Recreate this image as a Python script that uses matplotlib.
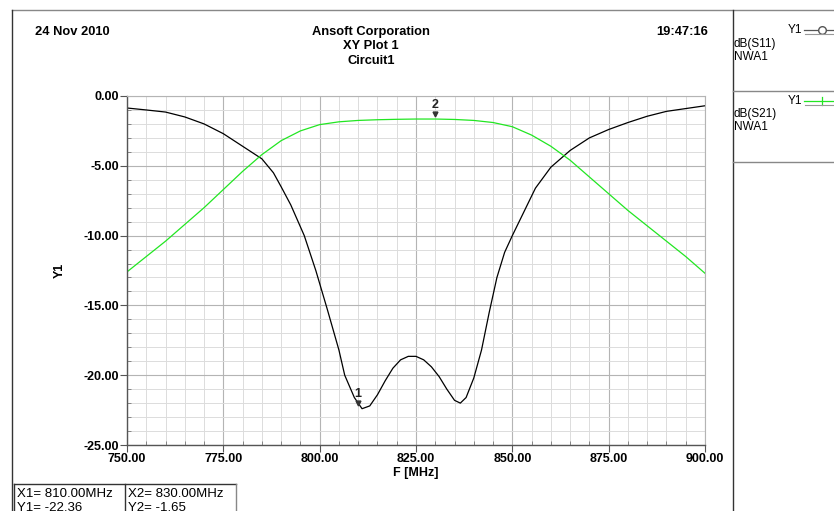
"""Ansoft XY Plot 1 - dB(S11) / dB(S21) of NWA1."""
import matplotlib
matplotlib.use('Agg')
import matplotlib.pyplot as plt
from matplotlib.lines import Line2D
from matplotlib.ticker import MultipleLocator, FormatStrFormatter

plt.rcParams['font.family'] = ['Liberation Sans', 'DejaVu Sans']

# %% Data
f_s11 = [750, 755, 760, 765, 770, 775, 780, 785, 788, 790, 792.5, 796, 799,
         802, 805, 806.5, 809, 811, 813, 815, 817, 819, 821, 823, 825, 827,
         829, 831, 833, 835, 836.5, 838, 840, 842, 844, 846, 848, 850, 853,
         856, 860, 865, 870, 875, 880, 885, 890, 895, 900]
s11 = [-0.86, -1.0, -1.15, -1.5, -2.0, -2.7, -3.6, -4.5, -5.5, -6.5, -7.8,
       -10.0, -12.5, -15.3, -18.2, -20.0, -21.6, -22.4, -22.2, -21.4, -20.4,
       -19.5, -18.9, -18.65, -18.65, -18.9, -19.4, -20.1, -21.0, -21.8, -22.0,
       -21.6, -20.2, -18.2, -15.5, -13.0, -11.2, -10.0, -8.3, -6.6, -5.1,
       -3.9, -3.0, -2.4, -1.9, -1.45, -1.1, -0.9, -0.7]

f_s21 = [750, 755, 760, 765, 770, 775, 780, 785, 790, 795, 800, 805, 810,
         815, 820, 825, 830, 835, 840, 845, 850, 855, 860, 865, 870, 875,
         880, 885, 890, 895, 900]
s21 = [-12.6, -11.5, -10.4, -9.2, -8.0, -6.7, -5.4, -4.2, -3.2, -2.5, -2.05,
       -1.85, -1.75, -1.7, -1.67, -1.65, -1.65, -1.68, -1.75, -1.9, -2.2,
       -2.8, -3.6, -4.6, -5.8, -7.0, -8.2, -9.3, -10.4, -11.5, -12.7]

marker_names = ['1', '2']
marker_x = [810.0, 830.0]
marker_y = [-22.36, -1.65]

W, H = 834, 511


def fx(x):
    return x / W


def fy(y):
    return 1 - y / H


# %% Figure
fig = plt.figure(figsize=(W / 100, H / 100), dpi=100)
ax = fig.add_axes([fx(127), fy(445), fx(705) - fx(127), fy(96) - fy(445)])

ax.plot(f_s11, s11, color='black', linewidth=0.9)
ax.plot(f_s21, s21, color='#22e622', linewidth=0.9)

for name, mx, my in zip(marker_names, marker_x, marker_y):
    ax.plot(mx, my + 0.35, marker='v', color='#333333', markersize=3.5)
    ax.text(mx, my + 0.55, name, ha='center', va='bottom', fontsize=9,
            fontweight='bold', color='#222222')

ax.set_xlim(750, 900)
ax.set_ylim(-25, 0)
ax.xaxis.set_major_locator(MultipleLocator(25))
ax.xaxis.set_minor_locator(MultipleLocator(5))
ax.yaxis.set_major_locator(MultipleLocator(5))
ax.yaxis.set_minor_locator(MultipleLocator(1))
ax.xaxis.set_major_formatter(FormatStrFormatter('%.2f'))
ax.yaxis.set_major_formatter(FormatStrFormatter('%.2f'))
ax.grid(which='major', color='#b4b4b4', linewidth=0.8)
ax.grid(which='minor', color='#dcdcdc', linewidth=0.7)
ax.set_axisbelow(True)

for side in ['top', 'right']:
    ax.spines[side].set_color('#b4b4b4')
    ax.spines[side].set_linewidth(0.8)
for side in ['left', 'bottom']:
    ax.spines[side].set_color('#555555')
    ax.spines[side].set_linewidth(1.0)

ax.tick_params(which='major', direction='out', length=5, color='#555555',
               labelsize=9, pad=0.5)
ax.tick_params(which='minor', direction='in', length=3, color='#777777')
for lab in ax.get_xticklabels() + ax.get_yticklabels():
    lab.set_fontweight('bold')

ax.set_xlabel('F [MHz]', fontsize=9, fontweight='bold', labelpad=2)
fig.text(fx(60), fy(270), 'Y1', rotation=90, ha='center', va='center',
         fontsize=9, fontweight='bold')

# %% Header
fig.text(fx(35), fy(32), '24 Nov 2010', ha='left', va='center',
         fontsize=9.3, fontweight='bold')
fig.text(fx(371), fy(32), 'Ansoft Corporation', ha='center', va='center',
         fontsize=9.3, fontweight='bold')
fig.text(fx(371), fy(46), 'XY Plot 1', ha='center', va='center',
         fontsize=9.3, fontweight='bold')
fig.text(fx(371), fy(61), 'Circuit1', ha='center', va='center',
         fontsize=9.3, fontweight='bold')
fig.text(fx(708), fy(32), '19:47:16', ha='right', va='center',
         fontsize=9.3, fontweight='bold')


# %% Frame and legend panel
def fline(xs, ys, color='#333333', lw=1.0, **kw):
    fig.add_artist(Line2D([fx(x) for x in xs], [fy(y) for y in ys],
                          transform=fig.transFigure, color=color,
                          linewidth=lw, **kw))


fline([12, 834], [10, 10], color='#888888')
fline([12, 12], [10, 511])
fline([733, 733], [10, 511])
fline([733, 834], [91, 91], color='#888888')
fline([733, 834], [162, 162], color='#888888')

fig.text(fx(802), fy(30), 'Y1', ha='right', va='center', fontsize=8.5)
fline([804, 822, 834], [30, 30, 30], color='#555555', lw=0.9, marker='o',
      markersize=5.5, markerfacecolor='white', markevery=[1])
fline([805, 834], [34, 34], color='#999999', lw=0.8)
fig.text(fx(734), fy(44), 'dB(S11)', ha='left', va='center', fontsize=8.5)
fig.text(fx(734), fy(57), 'NWA1', ha='left', va='center', fontsize=8.5)

fig.text(fx(802), fy(101), 'Y1', ha='right', va='center', fontsize=8.5)
fline([804, 834], [101, 101], color='#22e622', lw=0.9)
fline([822, 822], [97, 105], color='#22e622', lw=0.9)
fline([805, 834], [105, 105], color='#999999', lw=0.8)
fig.text(fx(734), fy(114), 'dB(S21)', ha='left', va='center', fontsize=8.5)
fig.text(fx(734), fy(127), 'NWA1', ha='left', va='center', fontsize=8.5)

# %% Marker table
fline([14, 236], [484, 484])
fline([14, 14], [484, 511])
fline([236, 236], [484, 511], color='#888888')
fline([125, 125], [484, 511])
fig.text(fx(17), fy(494), 'X1= %.2fMHz' % marker_x[0], ha='left',
         va='center', fontsize=9.5)
fig.text(fx(17), fy(508), 'Y1= %.2f' % marker_y[0], ha='left', va='center',
         fontsize=9.5)
fig.text(fx(128), fy(494), 'X2= %.2fMHz' % marker_x[1], ha='left',
         va='center', fontsize=9.5)
fig.text(fx(128), fy(508), 'Y2= %.2f' % marker_y[1], ha='left', va='center',
         fontsize=9.5)

fig.savefig('out.png', dpi=100)
